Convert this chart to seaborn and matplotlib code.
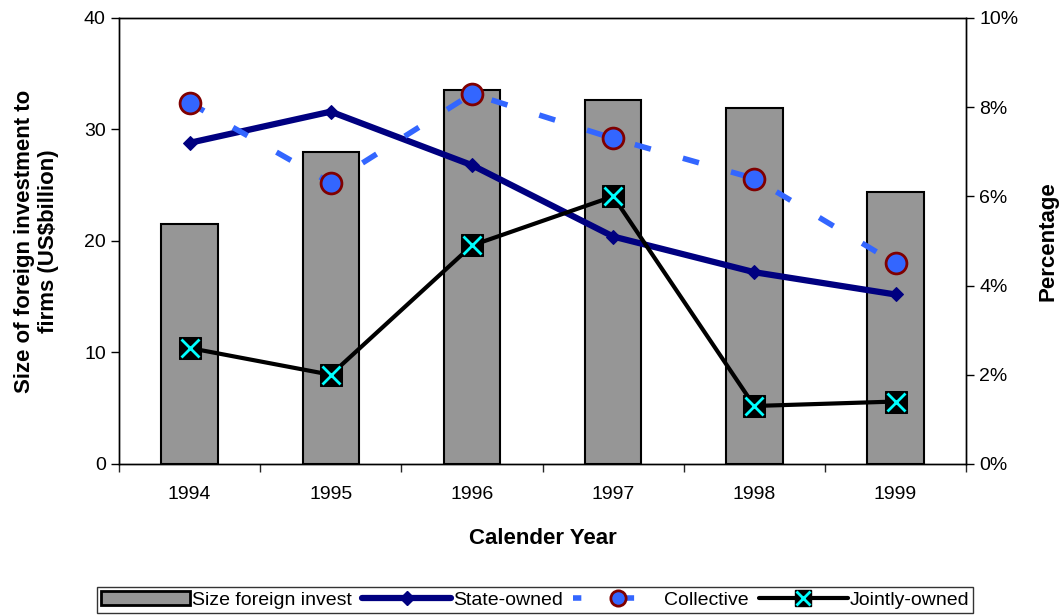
import matplotlib
matplotlib.use('Agg')
import matplotlib.pyplot as plt
import numpy as np
import seaborn as sns
from matplotlib.ticker import PercentFormatter, MultipleLocator
from matplotlib.lines import Line2D

# Data
years = ['1994', '1995', '1996', '1997', '1998', '1999']
foreign_invest = [21.5, 28.0, 33.5, 32.6, 31.9, 24.4]      # US$ billion
state_owned = [7.2, 7.9, 6.7, 5.1, 4.3, 3.8]               # percent
collective = [8.1, 6.3, 8.3, 7.3, 6.4, 4.5]                # percent
jointly_owned = [2.6, 2.0, 4.9, 6.0, 1.3, 1.4]             # percent

sns.set_theme(style='white')
plt.rcParams['font.family'] = ['Liberation Sans', 'DejaVu Sans']
plt.rcParams['text.color'] = 'black'
plt.rcParams['axes.labelcolor'] = 'black'

fig = plt.figure(figsize=(10.64, 6.16), dpi=100)
ax = fig.add_axes([0.1118, 0.2468, 0.7962, 0.724])

# Bars on the left axis
sns.barplot(x=years, y=foreign_invest, ax=ax, color='#969696', width=0.4,
            edgecolor='black', linewidth=1.5, saturation=1)
ax.set_ylim(0, 40)
ax.set_xlim(-0.5, len(years) - 0.5)
ax.yaxis.set_major_locator(MultipleLocator(10))
ax.set_xlabel('Calender Year', fontsize=16, fontweight='bold', labelpad=18)
ax.set_ylabel('Size of foreign investment to\nfirms (US$billion)',
              fontsize=16, fontweight='bold', labelpad=18)

# Lines on the right axis
ax2 = ax.twinx()
pos = np.arange(len(years))
sns.lineplot(x=pos, y=state_owned, ax=ax2, color='#000080', lw=4.5,
             marker='D', markersize=7, markeredgecolor='#000080')
sns.lineplot(x=pos, y=collective, ax=ax2, color='#3366FF', lw=4,
             linestyle=(0, (3, 6)), marker='o', markersize=15,
             markerfacecolor='#3366FF', markeredgecolor='#800000', markeredgewidth=2)
sns.lineplot(x=pos, y=jointly_owned, ax=ax2, color='black', lw=3,
             marker='s', markersize=16, markerfacecolor='black', markeredgecolor='black')
sns.lineplot(x=pos, y=jointly_owned, ax=ax2, color='black', lw=0,
             marker='x', markersize=13, markeredgecolor='#00FFFF', markeredgewidth=2)
ax2.set_ylim(0, 10)
ax2.yaxis.set_major_locator(MultipleLocator(2))
ax2.yaxis.set_major_formatter(PercentFormatter(decimals=0))
ax2.set_ylabel('Percentage', fontsize=16, fontweight='bold', labelpad=14)
ax2.set_xlim(-0.5, len(years) - 0.5)

# Axis cosmetics
for a in (ax, ax2):
    for s in a.spines.values():
        s.set_color('black')
        s.set_linewidth(1)
ax.tick_params(axis='y', direction='out', length=6, width=1, colors='black', labelsize=14, left=True)
ax2.tick_params(axis='y', direction='out', length=6, width=1, colors='black', labelsize=14, right=True)
ax.tick_params(axis='x', which='major', length=0, labelsize=14, colors='black', pad=16)
ax.set_xticks(np.arange(-0.5, len(years), 1), minor=True)
ax.tick_params(axis='x', which='minor', direction='out', length=6, width=1, bottom=True)

# Legend
h_bar = plt.Rectangle((0, 0), 1, 1, facecolor='#969696', edgecolor='black', linewidth=2)
h_state = Line2D([], [], color='#000080', lw=4.5, marker='D', markersize=7)
h_coll = Line2D([], [], color='#3366FF', lw=4, linestyle=(0, (1.5, 8)), marker='o',
                markersize=11, markerfacecolor='#3366FF', markeredgecolor='#800000', markeredgewidth=2)
h_joint_sq = Line2D([], [], color='black', lw=3, marker='s', markersize=12, markerfacecolor='black')
h_joint_x = Line2D([], [], color='none', lw=0, marker='x', markersize=10,
                   markeredgecolor='#00FFFF', markeredgewidth=2)
leg = fig.legend([h_bar, h_state, h_coll, (h_joint_sq, h_joint_x)],
                 ['Size foreign invest', 'State-owned', 'Collective', 'Jointly-owned'],
                 loc='center', bbox_to_anchor=(0.503, 0.026), ncol=4, frameon=True,
                 fancybox=False, edgecolor='black', fontsize=14, handlelength=4.6,
                 handletextpad=0.1, columnspacing=0.5, borderpad=0.2)
leg.get_frame().set_linewidth(1)

fig.savefig('out.png', dpi=100)
